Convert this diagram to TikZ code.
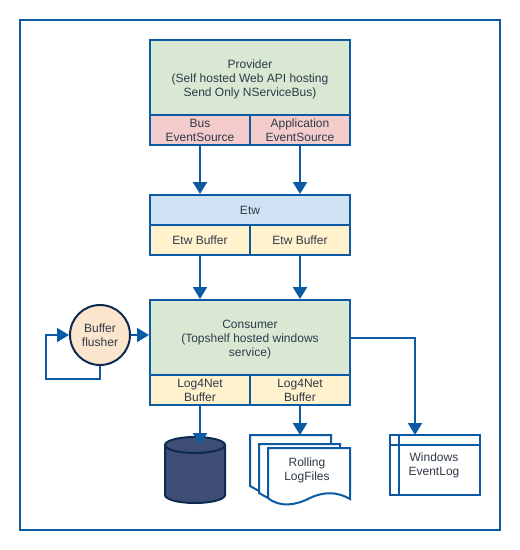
\documentclass[tikz,border=0pt]{standalone}
\usepackage{fontspec}
\setmainfont{Liberation Sans}
\usepackage{xcolor}
\usetikzlibrary{shapes,arrows.meta,positioning,calc}

\definecolor{lineblue}{HTML}{0B5AA3}
\definecolor{inkdark}{HTML}{2E3A48}
\definecolor{cellgreen}{HTML}{D8E8D3}
\definecolor{cellred}{HTML}{F4CCCC}
\definecolor{cellblue}{HTML}{CFE2F3}
\definecolor{cellyellow}{HTML}{FFF2CC}
\definecolor{cellorange}{HTML}{FCE5CD}
\definecolor{dbfill}{HTML}{3F4E74}
\definecolor{dbline}{HTML}{0D2B52}

\newcommand{\lowline}{\rule{0pt}{13pt}}

\tikzset{
    caption/.style={text=inkdark, align=center, inner sep=0pt, font=\fontsize{12}{14}\selectfont},
    cell/.style={caption, draw=lineblue, line width=2pt},
    wide/.style={cell, minimum width=200pt},
    half/.style={cell, minimum width=100pt, minimum height=30pt},
    flow/.style={draw=lineblue, line width=2pt, -{Triangle[width=14pt,length=12pt]}},
    plainline/.style={draw=lineblue, line width=2pt},
    pagesheet/.style={draw=lineblue, line width=2pt, fill=white, line join=miter},
}

\begin{document}
\begin{tikzpicture}[x=1pt,y=-1pt]
    \useasboundingbox (0,0) rectangle (520,550);

    % Outer frame
    \draw[plainline] (20,20) rectangle (500,530);

    % Provider
    \node[wide, fill=cellgreen, minimum height=75pt] (provider) at (250,77.5)
        {\lowline Provider\\(Self hosted Web API hosting\\Send Only NServiceBus)};
    \node[half, fill=cellred] (busSource) at (200,130) {Bus\\EventSource};
    \node[half, fill=cellred] (appSource) at (300,130) {Application\\EventSource};

    % Etw
    \node[wide, fill=cellblue, minimum height=30pt] (etw) at (250,210) {Etw};
    \node[half, fill=cellyellow] (etwBufA) at (200,240) {Etw Buffer};
    \node[half, fill=cellyellow] (etwBufB) at (300,240) {Etw Buffer};

    % Consumer
    \node[wide, fill=cellgreen, minimum height=75pt] (consumer) at (250,337.5)
        {\lowline Consumer\\(Topshelf hosted windows\\service)};
    \node[half, fill=cellyellow] (logBufA) at (200,390) {Log4Net\\Buffer};
    \node[half, fill=cellyellow] (logBufB) at (300,390) {Log4Net\\Buffer};

    % Flusher
    \node[cell, circle, draw=dbline, fill=cellorange, minimum size=60pt] (flusher) at (100,335)
        {Buffer\\flusher};
    \coordinate (loopA) at (100,379);
    \coordinate (loopB) at (46,379);

    % Database
    \draw[draw=dbline, fill=dbfill, line width=2pt] (165,445) -- (165,495)
        arc[start angle=180, end angle=360, x radius=30pt, y radius=8pt] -- (225,445);
    \draw[draw=dbline, fill=dbfill, line width=2pt] (195,445) ellipse [x radius=30pt, y radius=8pt];
    \coordinate (logDbIn) at (200,445);

    % Rolling files
    \draw[pagesheet] (250,435) -- (331,435) -- (331,470) -- (259,491) -- (250,486) -- cycle;
    \draw[pagesheet] (259,444) -- (340,444) -- (340,475) -- (268,498) -- (259,493) -- cycle;
    \draw[pagesheet] (268,448) -- (350,448) -- (350,499)
        .. controls (338,492) and (325,491) .. (310,498)
        .. controls (297,505) and (280,508) .. (268,498) -- cycle;
    \node[caption] (logFiles) at (307,470.7) {Rolling\\LogFiles};
    \coordinate (logFilesIn) at (300,435);

    % Event log
    \node[cell, fill=white, minimum width=90pt, minimum height=60pt] (eventLog) at (434.5,465) {};
    \draw[plainline] (399,435) -- (399,495);
    \draw[plainline] (389,445) -- (480,445);
    \node[caption] (eventLogText) at (434,465.5) {Windows\\EventLog};
    \coordinate (eventLogIn) at (415,435);

    % Connections
    \draw[flow] (busSource.south) -- (busSource.south |- etw.north);
    \draw[flow] (appSource.south) -- (appSource.south |- etw.north);
    \draw[flow] (etwBufA.south) -- (etwBufA.south |- consumer.north);
    \draw[flow] (etwBufB.south) -- (etwBufB.south |- consumer.north);
    \draw[flow] (logBufA.south) -- (logDbIn);
    \draw[flow] (logBufB.south) -- (logFilesIn);
    \draw[flow] (flusher.east) -- (flusher.east -| consumer.west);
    \draw[flow] (flusher.south) -- (loopA) -- (loopB) |- (flusher.west);
    \draw[flow] (consumer.east) -| (eventLogIn);
\end{tikzpicture}
\end{document}
